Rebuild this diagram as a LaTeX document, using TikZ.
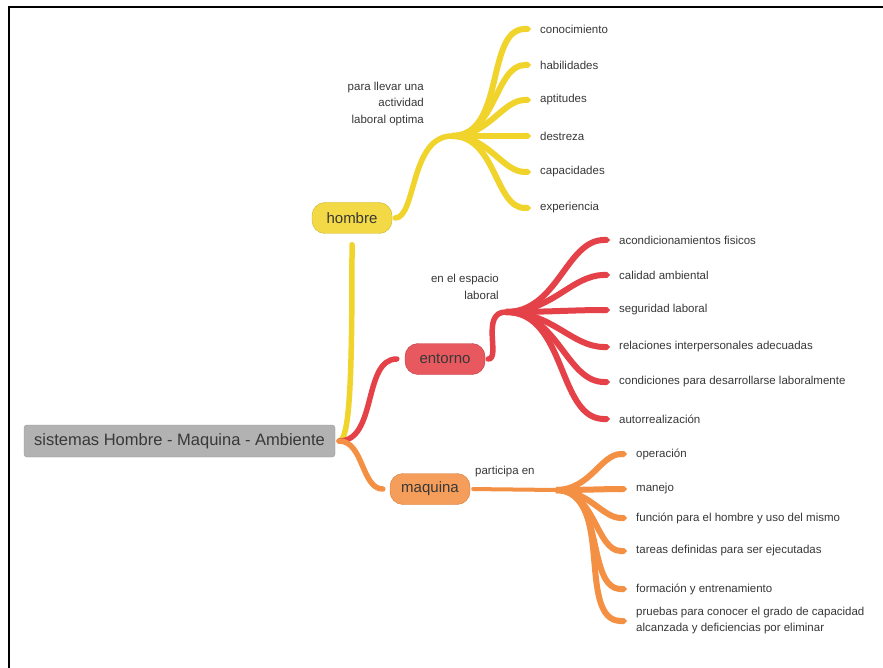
\documentclass[tikz,border=0pt]{standalone}
\usepackage{fontspec}
\setmainfont{Liberation Sans}
\usetikzlibrary{arrows.meta}
\definecolor{mmyellow}{RGB}{240,212,44}
\definecolor{mmred}{RGB}{228,66,72}
\definecolor{mmorange}{RGB}{244,144,68}
\definecolor{mmgray}{RGB}{178,178,178}
\definecolor{mmtext}{RGB}{56,56,56}

\begin{document}
\begin{tikzpicture}[x=1pt,y=-1pt,
  rootbox/.style={draw=gray!80,fill=mmgray,rounded corners=3pt,minimum width=311pt,minimum height=32pt,inner sep=0pt,text=mmtext,font=\fontsize{16.5}{18}\selectfont},
  topicbox/.style={draw=#1!85!black,fill=#1!88!white,rounded corners=13pt,minimum width=80pt,minimum height=31pt,inner sep=0pt,text=mmtext,font=\fontsize{15}{17}\selectfont},
  leaf/.style={anchor=west,inner sep=1pt,text=mmtext,font=\fontsize{11.5}{16}\selectfont,align=left},
  note/.style={inner sep=1pt,text=mmtext,font=\fontsize{11.5}{16.5}\selectfont},
  branch/.style={draw=#1,line width=6pt,-{Triangle Cap},shorten >=8pt},
  link/.style={draw=#1,line width=5.5pt,line cap=round}
]
  \useasboundingbox[fill=white] (0,0) rectangle (883,668);
  % frame of the screenshot
  \draw[line width=2.5pt] (9,668) -- (9,7) -- (883,7);

  % central topic and main topics
  \node[rootbox] (root) at (179.5,441) {sistemas Hombre - Maquina - Ambiente};
  \node[topicbox=mmyellow] (hombre) at (352,218) {hombre};
  \node[topicbox=mmred] (entorno) at (445,359) {entorno};
  \node[topicbox=mmorange] (maquina) at (430,489) {maquina};

  \draw[link=mmyellow,shorten <=4pt,shorten >=11pt] (root.east) .. controls +(16,0) and +(0,120) .. (hombre.south);
  \draw[link=mmred,shorten <=4pt,shorten >=8pt] (root.east) to[out=0,in=180] (entorno.west);
  \draw[link=mmorange,shorten <=4pt,shorten >=7pt] (root.east) to[out=0,in=180] (maquina.west);

  % hombre
  \coordinate (hubH) at (452,136);
  \node[note,anchor=east,align=right] (notaH) at (425,104) {para llevar una\\actividad\\laboral optima};
  \draw[link=mmyellow,shorten <=3pt] (hombre.east) .. controls +(24,0) and +(-42,0) .. (hubH);
  \node[leaf] (h1) at (539,29) {conocimiento};
  \node[leaf] (h2) at (539,65) {habilidades};
  \node[leaf] (h3) at (539,100) {aptitudes};
  \node[leaf] (h4) at (539,136) {destreza};
  \node[leaf] (h5) at (539,172) {capacidades};
  \node[leaf] (h6) at (539,208) {experiencia};
  \draw[branch=mmyellow] (hubH) to[out=0,in=180] (h1.west);
  \draw[branch=mmyellow] (hubH) to[out=0,in=180] (h2.west);
  \draw[branch=mmyellow] (hubH) to[out=0,in=180] (h3.west);
  \draw[branch=mmyellow] (hubH) to[out=0,in=180] (h4.west);
  \draw[branch=mmyellow] (hubH) to[out=0,in=180] (h5.west);
  \draw[branch=mmyellow] (hubH) to[out=0,in=180] (h6.west);

  % entorno
  \coordinate (hubE) at (506,312);
  \node[note,anchor=east,align=right] (notaE) at (500,287) {en el espacio\\laboral};
  \draw[link=mmred,shorten <=3pt] (entorno.east) .. controls +(16,0) and +(-26,0) .. (hubE);
  \node[leaf] (e1) at (618,240) {acondicionamientos fisicos};
  \node[leaf] (e2) at (618,275) {calidad ambiental};
  \node[leaf] (e3) at (618,310) {seguridad laboral};
  \node[leaf] (e4) at (618,347) {relaciones interpersonales adecuadas};
  \node[leaf] (e5) at (618,382) {condiciones para desarrollarse laboralmente};
  \node[leaf] (e6) at (618,419) {autorrealización};
  \draw[branch=mmred] (hubE) to[out=0,in=180] (e1.west);
  \draw[branch=mmred] (hubE) to[out=0,in=180] (e2.west);
  \draw[branch=mmred] (hubE) to[out=0,in=180] (e3.west);
  \draw[branch=mmred] (hubE) to[out=0,in=180] (e4.west);
  \draw[branch=mmred] (hubE) to[out=0,in=180] (e5.west);
  \draw[branch=mmred] (hubE) to[out=0,in=180] (e6.west);

  % maquina
  \coordinate (hubM) at (556,490);
  \node[note,anchor=west] (notaM) at (474,472) {participa en};
  \draw[link=mmorange,line width=4pt,shorten <=3pt] (maquina.east) -- (hubM);
  \node[leaf] (m1) at (635,454) {operación};
  \node[leaf] (m2) at (635,489) {manejo};
  \node[leaf] (m3) at (635,518) {función para el hombre y uso del mismo};
  \node[leaf] (m4) at (635,551) {tareas definidas para ser ejecutadas};
  \node[leaf] (m5) at (635,589) {formación y entrenamiento};
  \node[leaf] (m6) at (635,621) {pruebas para conocer el grado de capacidad\\alcanzada y deficiencias por eliminar};
  \draw[branch=mmorange] (hubM) to[out=0,in=180] (m1.west);
  \draw[branch=mmorange] (hubM) to[out=0,in=180] (m2.west);
  \draw[branch=mmorange] (hubM) to[out=0,in=180] (m3.west);
  \draw[branch=mmorange] (hubM) to[out=0,in=180] (m4.west);
  \draw[branch=mmorange] (hubM) to[out=0,in=180] (m5.west);
  \draw[branch=mmorange] (hubM) to[out=0,in=180] (m6.west);
\end{tikzpicture}
\end{document}
